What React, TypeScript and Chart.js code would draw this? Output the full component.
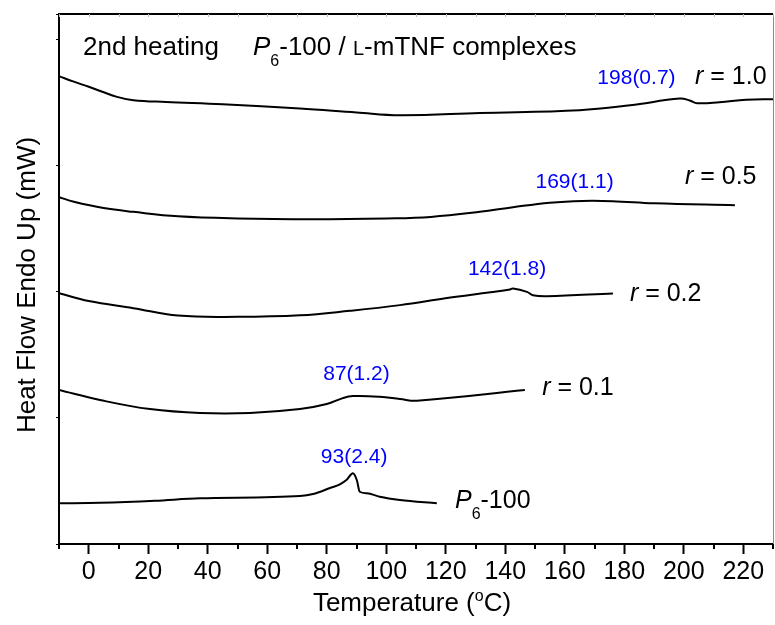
import { useEffect, useRef } from 'react';
import { Chart, registerables } from 'chart.js';

Chart.register(...registerables);

const FONT = '"Liberation Sans", Arial, Helvetica, sans-serif';

// Temperature (°C) and heat flow (arbitrary mW units, offset curves)
const tempR10 = [-10, -5, 0, 9.5, 15, 26, 45, 71, 90, 104.6, 131.5, 165, 182, 198.7, 202, 204.5, 212, 221, 230];
const heatR10 = [3.707, 3.664, 3.623, 3.543, 3.517, 3.503, 3.485, 3.451, 3.42, 3.398, 3.416, 3.438, 3.477, 3.53, 3.515, 3.493, 3.501, 3.521, 3.525];

const tempR05 = [-10, -5, 5, 15, 30, 50, 75, 100, 115, 131.5, 142.6, 155, 166, 176, 190, 217.2];
const heatR05 = [2.749, 2.712, 2.662, 2.632, 2.597, 2.58, 2.574, 2.58, 2.592, 2.632, 2.669, 2.705, 2.719, 2.717, 2.7, 2.685];

const tempR02 = [-10, 0, 15, 30, 50, 71, 87.8, 104.6, 120.4, 135, 141.6, 142.6, 147.3, 149.3, 154, 176.2];
const heatR02 = [1.988, 1.925, 1.869, 1.81, 1.8, 1.812, 1.848, 1.893, 1.949, 1.995, 2.017, 2.025, 1.998, 1.972, 1.964, 1.986];

const tempR01 = [-10, 3.8, 20.6, 37.4, 54.2, 71, 80, 85.4, 88.8, 97.8, 104.6, 110.3, 146.6];
const heatR01 = [1.22, 1.141, 1.069, 1.038, 1.038, 1.069, 1.109, 1.156, 1.172, 1.167, 1.149, 1.135, 1.22];

const tempP6 = [-10, 3.8, 22.3, 37.4, 71, 75.4, 81.1, 84.4, 86.8, 88.8, 90.1, 91.1, 93.5, 97.8, 104.6, 117];
const heatP6 = [0.322, 0.327, 0.343, 0.362, 0.38, 0.396, 0.444, 0.473, 0.512, 0.56, 0.507, 0.414, 0.402, 0.375, 0.349, 0.322];

const xTickValues = [0, 20, 40, 60, 80, 100, 120, 140, 160, 180, 200, 220];

// Peak labels: text, anchor temperature, anchor heat flow
const peakTexts = ['198(0.7)', '169(1.1)', '142(1.8)', '87(1.2)', '93(2.4)'];
const peakT = [184.1, 163.3, 140.6, 90.0, 89.2];
const peakV = [3.644, 2.82, 2.131, 1.299, 0.642];

// Curve labels: r value, anchor temperature, anchor heat flow
const ratioTexts = ['1.0', '0.5', '0.2', '0.1'];
const ratioT = [203.8, 200.4, 181.9, 152.4];
const ratioV = [3.644, 2.855, 1.929, 1.18];
const p6LabelT = 123.1;
const p6LabelV = 0.285;

type Run = { text: string; font: string; dy?: number };

function drawRuns(ctx: CanvasRenderingContext2D, x: number, y: number, runs: Run[], align: 'left' | 'center' = 'left') {
  let total = 0;
  for (const r of runs) {
    ctx.font = r.font;
    total += ctx.measureText(r.text).width;
  }
  let cx = align === 'center' ? x - total / 2 : x;
  ctx.textAlign = 'left';
  ctx.textBaseline = 'alphabetic';
  for (const r of runs) {
    ctx.font = r.font;
    ctx.fillText(r.text, cx, y + (r.dy || 0));
    cx += ctx.measureText(r.text).width;
  }
}

const decorPlugin = {
  id: 'decor',
  afterDraw(chart: any) {
    const ctx: CanvasRenderingContext2D = chart.ctx;
    const xs = chart.scales.x;
    const ys = chart.scales.y;
    const { left, right, top, bottom } = chart.chartArea;
    ctx.save();
    // top and right frame
    ctx.strokeStyle = '#000';
    ctx.lineWidth = 2;
    ctx.beginPath();
    ctx.moveTo(left - 1, top);
    ctx.lineTo(right, top);
    ctx.stroke();
    ctx.strokeStyle = '#888';
    ctx.lineWidth = 1;
    ctx.beginPath();
    ctx.moveTo(right + 0.5, top);
    ctx.lineTo(right + 0.5, bottom);
    ctx.stroke();
    // minor ticks bottom, faint ticks top
    for (let v = -10; v <= 230; v += 10) {
      const px = Math.round(xs.getPixelForValue(v));
      if (v % 20 !== 0) {
        ctx.strokeStyle = '#000';
        ctx.lineWidth = 2;
        ctx.beginPath();
        ctx.moveTo(px, bottom);
        ctx.lineTo(px, bottom + 5);
        ctx.stroke();
      }
      ctx.strokeStyle = '#bbb';
      ctx.lineWidth = 1;
      ctx.beginPath();
      ctx.moveTo(px + 0.5, top);
      ctx.lineTo(px + 0.5, top + 3);
      ctx.stroke();
    }
    ctx.fillStyle = '#000';
    // header
    drawRuns(ctx, left + 24, top + 41, [{ text: '2nd heating', font: `26px ${FONT}` }]);
    drawRuns(ctx, left + 194, top + 41, [
      { text: 'P', font: `italic 26px ${FONT}` },
      { text: '6', font: `16px ${FONT}`, dy: 11 },
      { text: '-100 / ', font: `26px ${FONT}` },
      { text: 'L', font: `20px ${FONT}` },
      { text: '-mTNF complexes', font: `26px ${FONT}` },
    ]);
    // ratio labels
    for (let i = 0; i < ratioTexts.length; i++) {
      drawRuns(ctx, xs.getPixelForValue(ratioT[i]), ys.getPixelForValue(ratioV[i]), [
        { text: 'r', font: `italic 25px ${FONT}` },
        { text: ' = ' + ratioTexts[i], font: `25px ${FONT}` },
      ]);
    }
    drawRuns(ctx, xs.getPixelForValue(p6LabelT), ys.getPixelForValue(p6LabelV), [
      { text: 'P', font: `italic 25px ${FONT}` },
      { text: '6', font: `16px ${FONT}`, dy: 11 },
      { text: '-100', font: `25px ${FONT}` },
    ]);
    // peak labels
    ctx.fillStyle = '#0000ff';
    for (let i = 0; i < peakTexts.length; i++) {
      drawRuns(ctx, xs.getPixelForValue(peakT[i]), ys.getPixelForValue(peakV[i]), [
        { text: peakTexts[i], font: `21px ${FONT}` },
      ], 'center');
    }
    // axis titles
    ctx.fillStyle = '#000';
    drawRuns(ctx, (left + right) / 2 - 4, 611, [
      { text: 'Temperature (', font: `26px ${FONT}` },
      { text: 'o', font: `16px ${FONT}`, dy: -10 },
      { text: 'C)', font: `26px ${FONT}` },
    ], 'center');
    ctx.save();
    ctx.translate(35, (top + bottom) / 2 + 6);
    ctx.rotate(-Math.PI / 2);
    drawRuns(ctx, 0, 0, [{ text: 'Heat Flow Endo Up (mW)', font: `26px ${FONT}` }], 'center');
    ctx.restore();
    ctx.restore();
  },
};

function toPoints(t: number[], v: number[]) {
  return t.map((x, i) => ({ x, y: v[i] }));
}

export default function App() {
  const ref = useRef<HTMLCanvasElement | null>(null);
  useEffect(() => {
    if (!ref.current) return;
    const mk = (t: number[], v: number[], smooth: boolean) => ({
      data: toPoints(t, v),
      borderColor: '#000',
      borderWidth: 2,
      pointRadius: 0,
      fill: false,
      tension: smooth ? 0.4 : 0,
      cubicInterpolationMode: smooth ? ('default' as const) : ('monotone' as const),
    });
    const chart = new Chart(ref.current, {
      type: 'line',
      data: {
        datasets: [
          mk(tempR10, heatR10, true),
          mk(tempR05, heatR05, true),
          mk(tempR02, heatR02, true),
          mk(tempR01, heatR01, true),
          mk(tempP6, heatP6, false),
        ],
      },
      options: {
        animation: false,
        responsive: true,
        maintainAspectRatio: false,
        layout: { padding: { top: 14, right: 2, left: 0, bottom: 0 } },
        plugins: { legend: { display: false }, tooltip: { enabled: false } },
        scales: {
          x: {
            type: 'linear',
            min: -10,
            max: 230,
            afterBuildTicks: (scale: any) => {
              scale.ticks = xTickValues.map((value) => ({ value }));
            },
            ticks: {
              autoSkip: false,
              maxRotation: 0,
              color: '#000',
              padding: 3,
              font: { size: 25, family: FONT },
              callback: (v: any) => String(v),
            },
            grid: { drawOnChartArea: false, drawTicks: true, tickLength: 10, tickWidth: 2, tickColor: '#000' },
            border: { display: true, color: '#000', width: 2 },
            afterFit: (s: any) => {
              s.height = 81;
            },
          },
          y: {
            min: 0,
            max: 4.2,
            ticks: { stepSize: 1, callback: () => '', color: '#000' },
            grid: { drawOnChartArea: false, drawTicks: true, tickLength: 3, tickWidth: 1, tickColor: '#000' },
            border: { display: true, color: '#000', width: 2 },
            afterFit: (s: any) => {
              s.width = 59;
            },
          },
        },
      },
      plugins: [decorPlugin],
    });
    return () => chart.destroy();
  }, []);
  return (
    <div style={{ position: 'fixed', left: 0, top: 0, width: 775, height: 625, background: '#fff' }}>
      <canvas ref={ref} />
    </div>
  );
}
